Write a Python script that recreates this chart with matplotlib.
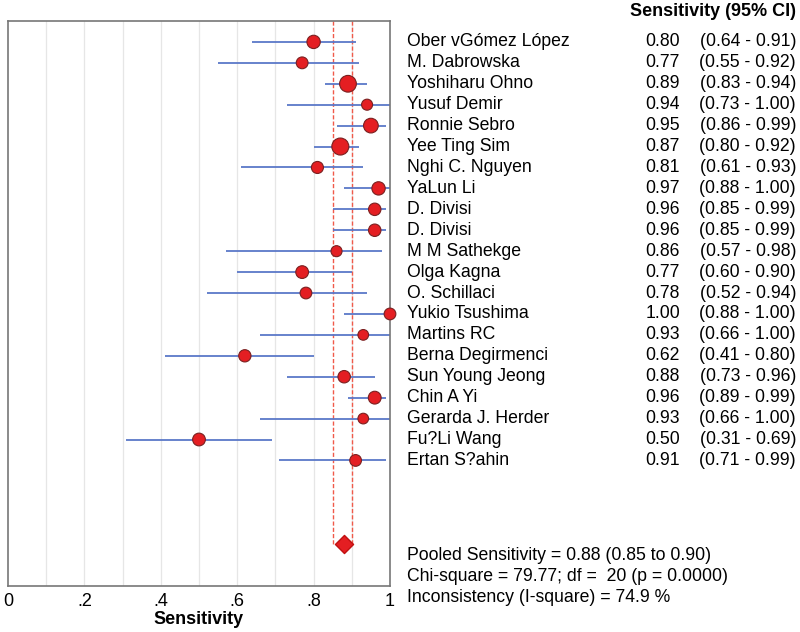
import matplotlib.pyplot as plt

plt.rcParams['font.family'] = ['Liberation Sans', 'DejaVu Sans']

# study data
studies = ['Ober vGómez López', 'M. Dabrowska', 'Yoshiharu Ohno', 'Yusuf Demir',
           'Ronnie Sebro', 'Yee Ting Sim', 'Nghi C. Nguyen', 'YaLun Li',
           'D. Divisi', 'D. Divisi', 'M M Sathekge', 'Olga Kagna', 'O. Schillaci',
           'Yukio Tsushima', 'Martins RC', 'Berna Degirmenci', 'Sun Young Jeong',
           'Chin A Yi', 'Gerarda J. Herder', 'Fu?Li Wang', 'Ertan S?ahin']
sens = [0.80, 0.77, 0.89, 0.94, 0.95, 0.87, 0.81, 0.97, 0.96, 0.96, 0.86,
        0.77, 0.78, 1.00, 0.93, 0.62, 0.88, 0.96, 0.93, 0.50, 0.91]
lower = [0.64, 0.55, 0.83, 0.73, 0.86, 0.80, 0.61, 0.88, 0.85, 0.85, 0.57,
         0.60, 0.52, 0.88, 0.66, 0.41, 0.73, 0.89, 0.66, 0.31, 0.71]
upper = [0.91, 0.92, 0.94, 1.00, 0.99, 0.92, 0.93, 1.00, 0.99, 0.99, 0.98,
         0.90, 0.94, 1.00, 1.00, 0.80, 0.96, 0.99, 1.00, 0.69, 0.99]
# marker weights (approximate point size from picture)
weights = [92, 72, 145, 63, 112, 150, 75, 92, 80, 80, 63, 84, 71, 71, 59,
           78, 80, 85, 59, 84, 71]

pooled = 0.88
pooled_lo = 0.85
pooled_hi = 0.90
stats_text = ['Pooled Sensitivity = 0.88 (0.85 to 0.90)',
              'Chi-square = 79.77; df =  20 (p = 0.0000)',
              'Inconsistency (I-square) = 74.9 %']

fig = plt.figure(figsize=(8, 6.32), dpi=100)
ax = fig.add_axes([0.01, 0.0728, 0.4775, 0.894])

rows = list(range(1, len(studies) + 1))
pooled_row = len(studies) + 4

for g in [0.1, 0.2, 0.3, 0.4, 0.5, 0.6, 0.7, 0.8, 0.9]:
    ax.axvline(g, color='#e6e6e6', lw=0.9, zorder=0)

ax.vlines([pooled_lo, pooled_hi], 0, pooled_row, colors='#f05a4a', lw=1,
          linestyles=(0, (3, 1.5)), zorder=1)

ax.hlines(rows, lower, upper, colors='#5b78c8', lw=1.3, zorder=2)
ax.scatter(sens, rows, s=weights, color='#e41e22', edgecolor='#7a2020',
           lw=0.8, zorder=3, clip_on=False)

ax.scatter([pooled], [pooled_row], marker='D', s=85, color='#e41e22',
           edgecolor='#c01010', zorder=3)

ax.set_xlim(0, 1)
ax.set_ylim(pooled_row + 2, 0)
ax.set_yticks([])
ax.set_xticks([0, 0.2, 0.4, 0.6, 0.8, 1.0])
ax.set_xticklabels(['0', '.2', '.4', '.6', '.8', '1'], fontsize=13)
ax.tick_params(axis='x', length=0, pad=5)
ax.set_xlabel('Sensitivity', fontsize=13, fontweight='bold', labelpad=1)
for s in ax.spines.values():
    s.set_color('#777777')
    s.set_linewidth(1.2)

# right side text column
fs = 12.7
for r, name, v, lo, hi in zip(rows, studies, sens, lower, upper):
    ax.annotate(name, xy=(0, r), xycoords=('figure fraction', 'data'),
                xytext=(407, 0), textcoords='offset pixels', va='center',
                fontsize=fs, annotation_clip=False)
    ax.annotate(f'{v:.2f}', xy=(0, r), xycoords=('figure fraction', 'data'),
                xytext=(680, 0), textcoords='offset pixels', va='center',
                ha='right', fontsize=fs, annotation_clip=False)
    ax.annotate(f'({lo:.2f} - {hi:.2f})', xy=(0, r),
                xycoords=('figure fraction', 'data'),
                xytext=(796, 0), textcoords='offset pixels', va='center',
                ha='right', fontsize=fs, annotation_clip=False)

fig.text(796 / 800, 1 - 12 / 632, 'Sensitivity (95% CI)', ha='right',
         va='center', fontsize=13, fontweight='bold')

for i, t in enumerate(stats_text):
    fig.text(407 / 800, 1 - (555 + 21.5 * i) / 632, t, va='center', fontsize=fs)

fig.savefig('out.png', dpi=100, facecolor='white')
